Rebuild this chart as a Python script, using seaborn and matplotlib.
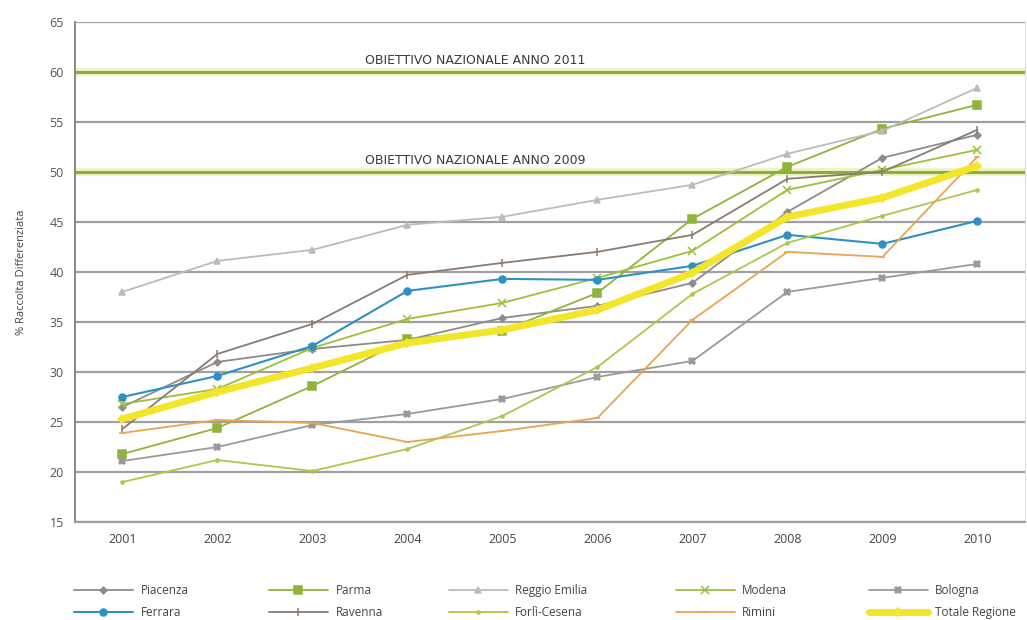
import pandas as pd
import matplotlib.pyplot as plt
import seaborn as sns

# anni e serie (% raccolta differenziata)
anni = ['2001', '2002', '2003', '2004', '2005', '2006', '2007', '2008', '2009', '2010']

piacenza = [26.5, 31.0, 32.3, 33.2, 35.4, 36.6, 38.9, 46.0, 51.4, 53.7]
parma = [21.8, 24.4, 28.6, 33.3, 34.1, 37.9, 45.3, 50.5, 54.3, 56.7]
reggio = [38.0, 41.1, 42.2, 44.7, 45.5, 47.2, 48.7, 51.8, 54.1, 58.4]
modena = [26.8, 28.3, 32.4, 35.3, 36.9, 39.4, 42.1, 48.2, 50.2, 52.2]
bologna = [21.1, 22.5, 24.7, 25.8, 27.3, 29.5, 31.1, 38.0, 39.4, 40.8]
ferrara = [27.5, 29.6, 32.6, 38.1, 39.3, 39.2, 40.6, 43.7, 42.8, 45.1]
ravenna = [24.3, 31.8, 34.8, 39.7, 40.9, 42.0, 43.7, 49.3, 50.0, 54.2]
forli = [19.0, 21.2, 20.1, 22.3, 25.6, 30.5, 37.8, 42.9, 45.6, 48.2]
rimini = [23.9, 25.2, 24.9, 23.0, 24.1, 25.4, 35.2, 42.0, 41.5, 51.5]
totale = [25.3, 28.0, 30.4, 32.9, 34.2, 36.2, 39.9, 45.5, 47.4, 50.6]

obiettivi = [60, 50]
testi_obiettivi = ['OBIETTIVO NAZIONALE ANNO 2011', 'OBIETTIVO NAZIONALE ANNO 2009']

serie = {
    'Piacenza': piacenza,
    'Parma': parma,
    'Reggio Emilia': reggio,
    'Modena': modena,
    'Bologna': bologna,
    'Ferrara': ferrara,
    'Ravenna': ravenna,
    'Forlì-Cesena': forli,
    'Rimini': rimini,
    'Totale Regione': totale,
}

# stile di ogni linea: colore, marker, dimensione marker, spessore
stili = {
    'Piacenza': ('#8c8c8c', 'D', 3.5, 1.3),
    'Parma': ('#8fb43a', 's', 5.5, 1.3),
    'Reggio Emilia': ('#bbbbbb', '^', 4.5, 1.3),
    'Modena': ('#9dc03a', 'x', 5.5, 1.3),
    'Bologna': ('#9a9a9a', 'X', 4.5, 1.3),
    'Ferrara': ('#2f90c2', 'o', 5, 1.5),
    'Ravenna': ('#8a7b70', '|', 6, 1.3),
    'Forlì-Cesena': ('#a9c94c', '.', 4.5, 1.3),
    'Rimini': ('#e9a552', '_', 5, 1.3),
    'Totale Regione': ('#f2e52a', 'D', 4.5, 5.0),
}

sns.set_style('white')
plt.rcParams['font.family'] = ['Open Sans', 'DejaVu Sans']

fig = plt.figure(figsize=(10.27, 6.2), dpi=100)
ax = fig.add_axes([0.073, 0.158, 0.925, 0.807])

# griglia orizzontale
for v in range(15, 66, 5):
    if v in obiettivi:
        continue
    ax.axhline(v, color='#a0a0a0', lw=1.6, zorder=0)

# obiettivi nazionali
for v, t in zip(obiettivi, testi_obiettivi):
    ax.axhline(v, color='#eef3c8', lw=6, zorder=1)
    ax.axhline(v, color='#8db034', lw=2.2, zorder=1)
    ax.text(2.55, v + 0.5, t, fontsize=9, color='#3a3a3a', va='bottom', ha='left',
            family=['DejaVu Sans'])

x = list(range(len(anni)))
handles = {}
for nome, valori in serie.items():
    col, mk, ms, lw = stili[nome]
    df = pd.DataFrame({'x': x, 'y': valori})
    z = 5 if nome == 'Totale Regione' else 3
    sns.lineplot(data=df, x='x', y='y', ax=ax, color=col, lw=lw, marker=mk,
                 markersize=ms, markeredgecolor=col, markeredgewidth=1.1,
                 zorder=z, legend=False)
    handles[nome] = ax.get_lines()[-1]

ax.set_xlim(-0.5, 9.5)
ax.set_ylim(15, 65)
ax.set_yticks(range(15, 66, 5))
ax.set_xticks(x)
ax.set_xticklabels(anni)
ax.set_xticks([i + 0.5 for i in range(9)], minor=True)
ax.tick_params(axis='x', which='major', length=0, pad=8, labelsize=9, labelcolor='#444444')
ax.tick_params(axis='x', which='minor', length=4, color='#888888', direction='in')
ax.tick_params(axis='y', length=4, color='#888888', direction='out', labelsize=9,
               labelcolor='#555555', pad=4)
ax.set_xlabel('')
ax.set_ylabel('% Raccolta Differenziata', fontsize=8, color='#444444', labelpad=16)

ax.spines['top'].set_visible(False)
ax.spines['left'].set_color('#888888')
ax.spines['left'].set_linewidth(1.4)
ax.spines['right'].set_color('#dddddd')
ax.spines['bottom'].set_color('#a0a0a0')
ax.spines['bottom'].set_linewidth(1.6)

# legenda: 5 colonne da 2 voci, ognuna nella sua posizione
colonne = [['Piacenza', 'Ferrara'], ['Parma', 'Ravenna'], ['Reggio Emilia', 'Forlì-Cesena'],
           ['Modena', 'Rimini'], ['Bologna', 'Totale Regione']]
pos_x = [0.066, 0.256, 0.431, 0.652, 0.840]
for nomi, px in zip(colonne, pos_x):
    fig.legend([handles[n] for n in nomi], nomi, loc='upper left',
               bbox_to_anchor=(px, 0.068), frameon=False, fontsize=8.5,
               handlelength=5.0, labelspacing=0.8, handletextpad=0.65,
               borderpad=0, labelcolor='#444444')

plt.savefig('out.png', dpi=100)
